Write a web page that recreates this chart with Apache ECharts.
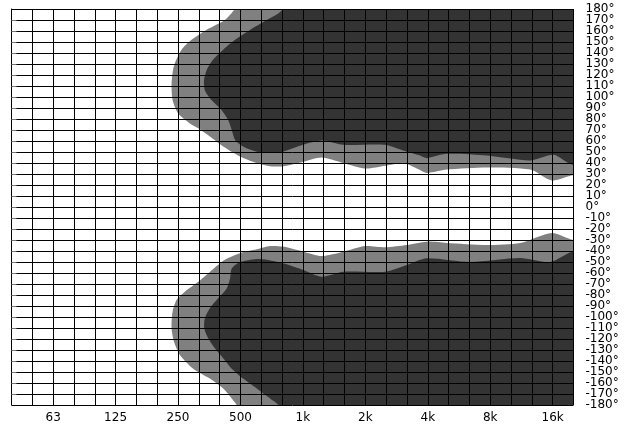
<!DOCTYPE html>
<html>
<head>
<meta charset="utf-8">
<script src="https://cdn.jsdelivr.net/npm/echarts@6/dist/echarts.min.js"></script>
<style>
  html, body { margin: 0; padding: 0; background: #fff; }
  #chart { width: 628px; height: 430px; }
</style>
</head>
<body>
<div id="chart"></div>
<script>
// x = third-octave band index (0 = 40 Hz ... 27 = 20 kHz), y = angle in degrees
const tickIdx = [2, 5, 8, 11, 14, 17, 20, 23, 26];
const tickLabels = ['63', '125', '250', '500', '1k', '2k', '4k', '8k', '16k'];

// outer (grey) and inner (dark) regions, upper half
const upperGray = [
  [11.2, 190], [10.74, 180], [10.25, 170], [9.36, 161], [8.65, 152], [8.17, 143],
  [7.8, 128], [7.69, 112], [7.74, 97], [8.01, 85], [8.57, 76], [8.97, 71.5],
  [9.53, 64], [10.17, 55], [10.98, 46], [11.78, 40], [12.42, 37], [13.06, 37],
  [14.0, 41], [14.9, 45], [15.94, 40], [16.99, 35], [17.95, 37.5], [18.83, 40],
  [19.47, 35], [19.95, 31], [20.91, 34], [22.84, 36], [24.92, 34], [25.96, 24],
  [27, 29], [28, 29], [28, 190]
];
const upperDark = [
  [13.3, 190], [13.04, 180], [12.82, 176], [12.26, 170], [11.46, 161], [10.74, 152],
  [10.17, 143], [9.69, 134], [9.38, 124.5], [9.25, 115.5], [9.29, 106], [9.62, 97],
  [10.1, 88], [10.41, 79], [10.58, 70], [10.74, 61], [11.13, 55], [11.78, 50.3],
  [12.42, 49], [13.04, 50.3], [14.0, 56.6], [14.9, 60.5], [15.94, 56.6], [17.95, 56.6],
  [18.81, 51.4], [19.63, 46.8], [19.95, 44.4], [20.91, 48.3], [22.84, 46.8], [24.92, 42.3],
  [26.04, 47.4], [26.68, 40.7], [27, 38.3], [28, 37], [28, 190]
];
// lower half
const lowerGray = [
  [11.0, -190], [10.82, -180], [10.58, -174], [10.17, -165], [9.53, -156], [8.73, -147],
  [8.09, -134.5], [7.8, -122], [7.69, -110], [7.74, -95], [7.93, -84.5], [8.33, -77],
  [8.97, -68], [9.53, -59], [10.25, -48], [10.98, -42], [11.78, -38.5], [12.42, -35.5],
  [13.06, -36], [14.02, -40.6], [14.9, -44.5], [15.94, -40.6], [16.99, -35.5], [17.95, -36.6],
  [18.99, -34.5], [19.95, -31.5], [20.91, -32.7], [22.84, -34.5], [24.44, -32.7], [25.96, -23.6],
  [27, -30], [28, -30], [28, -190]
];
const lowerDark = [
  [12.95, -190], [12.82, -180], [12.42, -174], [11.78, -165], [11.13, -156], [10.58, -147],
  [10.17, -137.5], [9.77, -128.4], [9.45, -119.4], [9.26, -110.3], [9.29, -101.2], [9.53, -92],
  [9.93, -83], [10.34, -74], [10.5, -65], [10.58, -56], [10.98, -50], [11.94, -47.3],
  [13.04, -51.2], [14.02, -57.3], [14.9, -63.4], [15.94, -58.8], [17.95, -58.8], [18.99, -52.7],
  [19.95, -46.6], [22.03, -50], [24.44, -46.4], [25.88, -50], [27, -40], [28, -40], [28, -190]
];

const chart = echarts.init(document.getElementById('chart'));

function regionSeries(polys, color, z) {
  return {
    type: 'custom',
    z: z,
    clip: true,
    silent: true,
    data: polys.map((p, i) => [i, 0]),
    renderItem: function (params, api) {
      const pts = polys[params.dataIndex].map(p => api.coord(p));
      return {
        type: 'polygon',
        shape: { points: pts, smooth: 0.25 },
        style: { fill: color, stroke: null }
      };
    }
  };
}

const yLabelStyle = {
  margin: 12,
  color: '#000',
  fontSize: 12,
  fontFamily: 'DejaVu Sans'
};

chart.setOption({
  animation: false,
  grid: { left: 11.5, right: 54.5, top: 9, bottom: 25 },
  xAxis: {
    type: 'value',
    min: 0,
    max: 27,
    interval: 1,
    z: 10,
    axisLine: { show: true, lineStyle: { color: '#000', width: 1 } },
    axisTick: { show: false },
    splitLine: { show: true, lineStyle: { color: '#000', width: 1 } },
    axisLabel: {
      margin: 7,
      color: '#000',
      fontSize: 12,
      fontFamily: 'DejaVu Sans',
      formatter: function (v) {
        const k = tickIdx.indexOf(Math.round(v));
        return k >= 0 ? tickLabels[k] : '';
      }
    }
  },
  yAxis: [
    {
      type: 'value',
      position: 'right',
      min: -180,
      max: 180,
      interval: 10,
      z: 10,
      axisLine: { show: true, lineStyle: { color: '#000', width: 1 } },
      axisTick: { show: true, length: 5, lineStyle: { color: '#777', width: 1 } },
      splitLine: { show: true, lineStyle: { color: '#000', width: 1 } },
      axisLabel: Object.assign({
        showMinLabel: false,
        showMaxLabel: false,
        formatter: function (v) { return v + '°'; }
      }, yLabelStyle)
    },
    {
      // only carries the ±180° end labels
      type: 'value',
      position: 'right',
      min: -180,
      max: 180,
      interval: 10,
      axisLine: { show: false },
      axisTick: { show: false },
      splitLine: { show: false },
      axisLabel: Object.assign({
        showMinLabel: true,
        showMaxLabel: true,
        formatter: function (v) { return Math.abs(v) === 180 ? v + '°' : ''; }
      }, yLabelStyle)
    }
  ],
  series: [
    regionSeries([upperGray, lowerGray], '#808080', 1),
    regionSeries([upperDark, lowerDark], '#333333', 2)
  ]
});
</script>
</body>
</html>
